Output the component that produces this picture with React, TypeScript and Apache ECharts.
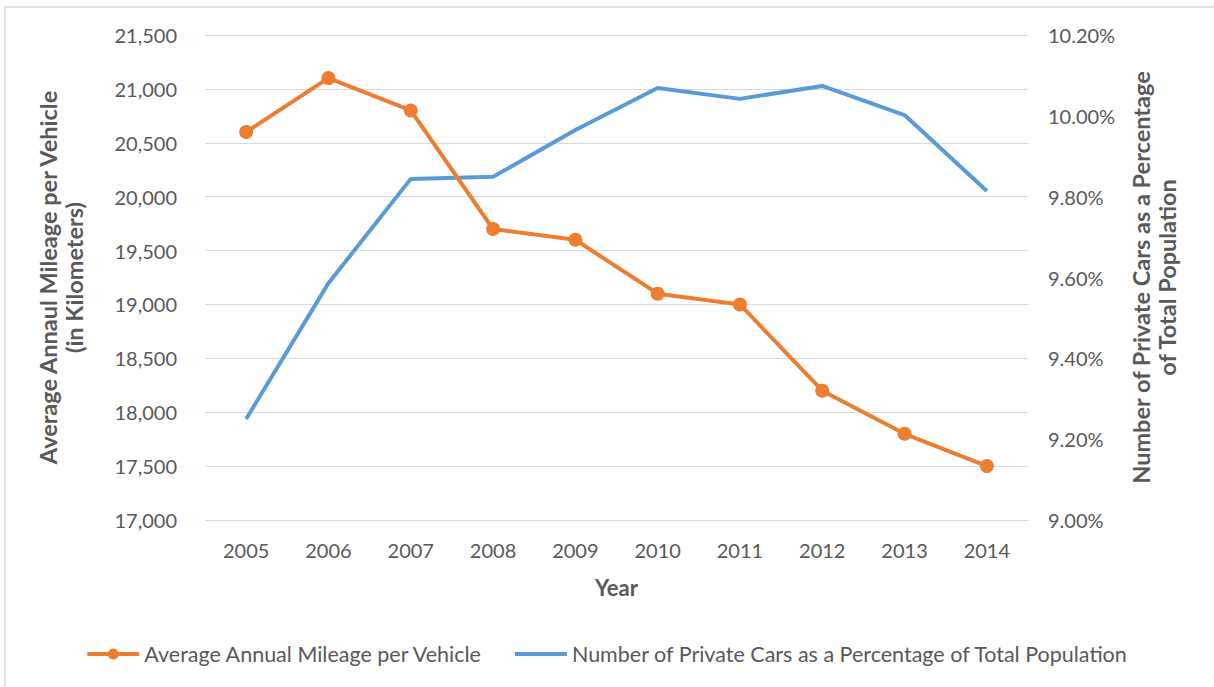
import React, { useEffect, useRef } from "react";
import * as echarts from "echarts";

const years = ["2005", "2006", "2007", "2008", "2009", "2010", "2011", "2012", "2013", "2014"];
const mileage = [20600, 21100, 20800, 19700, 19600, 19100, 19000, 18200, 17800, 17500];
const carsPct = [9.25, 9.586, 9.844, 9.849, 9.965, 10.069, 10.042, 10.074, 10.002, 9.814];

const mileageName = "Average Annual Mileage per Vehicle";
const carsName = "Number of Private Cars as a Percentage of Total Population";

const FONT = "Lato, 'Open Sans', sans-serif";
const GREY = "#595959";

export default function App() {
  const ref = useRef<HTMLDivElement>(null);
  useEffect(() => {
    if (!ref.current) return;
    const chart = echarts.init(ref.current, null, { renderer: "svg" });
    chart.setOption({
      animation: false,
      backgroundColor: "#ffffff",
      textStyle: { fontFamily: FONT },
      graphic: [
        {
          type: "rect",
          shape: { x: 5, y: 7, width: 1220, height: 700 },
          style: { fill: "none", stroke: "#d9d9d9", lineWidth: 1.5 },
          silent: true,
        },
      ],
      grid: { left: 205, right: 186, top: 35, bottom: 167 },
      legend: {
        top: 638,
        left: "center",
        itemWidth: 52,
        itemHeight: 14,
        itemGap: 30,
        lineStyle: { width: 4 },
        textStyle: { color: GREY, fontSize: 21.5, fontFamily: FONT },
        data: [
          mileageName,
          { name: carsName, itemStyle: { opacity: 0 } },
        ],
      },
      xAxis: {
        type: "category",
        data: years,
        boundaryGap: true,
        name: "Year",
        nameLocation: "middle",
        nameGap: 56,
        nameTextStyle: { color: GREY, fontSize: 22, fontWeight: "bold", fontFamily: FONT },
        axisLine: { show: false },
        axisTick: { show: false },
        axisLabel: { color: GREY, fontSize: 20, margin: 20, fontFamily: FONT },
      },
      yAxis: [
        {
          type: "value",
          min: 17000,
          max: 21500,
          interval: 500,
          position: "left",
          name: "Average Annaul Mileage per Vehicle\n(in Kilometers)",
          nameLocation: "middle",
          nameGap: 118,
          nameTextStyle: { color: GREY, fontSize: 23.5, fontWeight: "bold", lineHeight: 26, fontFamily: FONT },
          axisLine: { show: false },
          axisTick: { show: false },
          axisLabel: {
            color: GREY,
            fontSize: 20,
            margin: 28,
            fontFamily: FONT,
            formatter: (v: number) => v.toLocaleString("en-US"),
          },
          splitLine: { lineStyle: { color: "#d9d9d9", width: 1 } },
        },
        {
          type: "value",
          min: 9.0,
          max: 10.2,
          interval: 0.2,
          position: "right",
          name: "Number of Private Cars as a Percentage\nof Total Population",
          nameLocation: "middle",
          nameGap: 100,
          nameRotate: 90,
          nameTextStyle: { color: GREY, fontSize: 23.5, fontWeight: "bold", lineHeight: 26, fontFamily: FONT },
          axisLine: { show: false },
          axisTick: { show: false },
          axisLabel: {
            color: GREY,
            fontSize: 20,
            margin: 20,
            fontFamily: FONT,
            formatter: (v: number) => v.toFixed(2) + "%",
          },
          splitLine: { show: false },
        },
      ],
      series: [
        {
          name: carsName,
          type: "line",
          yAxisIndex: 1,
          data: carsPct,
          showSymbol: false,
          symbol: "none",
          lineStyle: { color: "#5B9BD5", width: 4 },
          itemStyle: { color: "#5B9BD5" },
        },
        {
          name: mileageName,
          type: "line",
          yAxisIndex: 0,
          data: mileage,
          symbol: "circle",
          symbolSize: 14,
          lineStyle: { color: "#ED7D31", width: 4 },
          itemStyle: { color: "#ED7D31" },
        },
      ],
    });
    return () => chart.dispose();
  }, []);
  return (
    <div
      ref={ref}
      style={{ position: "fixed", left: 0, top: 0, width: 1214, height: 687 }}
    />
  );
}
